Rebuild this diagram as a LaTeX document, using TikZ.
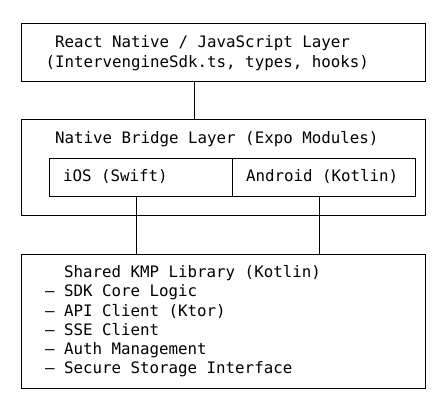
\documentclass[tikz,border=0pt]{standalone}
\usepackage{fontspec}
\setmonofont{DejaVu Sans Mono}
\begin{document}
\begin{tikzpicture}[x=1pt,y=-1pt,line width=1pt,
  every node/.style={font=\ttfamily\fontsize{15.8}{19.2}\selectfont},
  layer/.style={draw,minimum width=404pt,inner sep=0pt},
  part/.style={draw,minimum width=183pt,minimum height=38pt,inner sep=0pt},
  txt/.style={anchor=base west,align=left,inner sep=0pt}]
\useasboundingbox (0,0) rectangle (446,416);

% layers
\node[layer,minimum height=58pt] (js) at (223,52) {};
\node[layer,minimum height=96pt] (bridge) at (223,167) {};
\node[part] (ios) at (140.5,177) {};
\node[part] (android) at (323.5,177) {};
\node[layer,minimum height=134pt] (kmp) at (223,321) {};

% texts (base = last line)
\node[txt] (jstext) at (45,67) {\ React Native / JavaScript Layer\\(IntervengineSdk.ts, types, hooks)};
\node[txt] (bridgetext) at (45,143.3) {\ Native Bridge Layer (Expo Modules)};
\node[txt] (iostext) at (62.5,181.7) {iOS (Swift)};
\node[txt] (androidtext) at (245.5,181.7) {Android (Kotlin)};
\node[txt] (kmptext) at (44.5,373.7) {\ \ Shared KMP Library (Kotlin)\\– SDK Core Logic\\– API Client (Ktor)\\– SSE Client\\– Auth Management\\– Secure Storage Interface};

% links
\coordinate (jsx) at (194,0);
\coordinate (iosx) at (136,0);
\coordinate (androidx) at (319,0);
\draw (js.south -| jsx) -- (bridge.north -| jsx);
\draw (ios.south -| iosx) -- (kmp.north -| iosx);
\draw (android.south -| androidx) -- (kmp.north -| androidx);

\end{tikzpicture}
\end{document}
